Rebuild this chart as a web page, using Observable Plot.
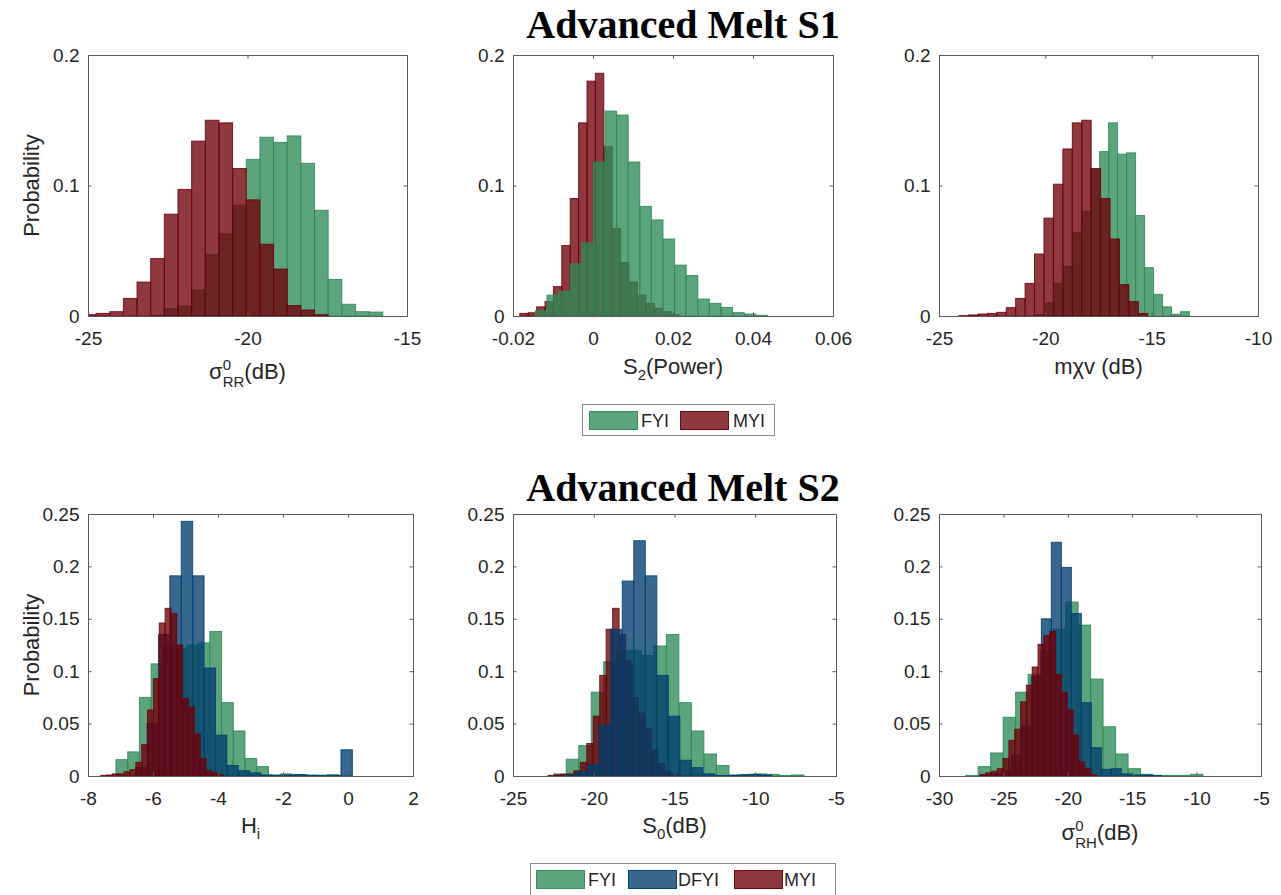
<!DOCTYPE html>
<html><head><meta charset="utf-8">
<script src="https://cdn.jsdelivr.net/npm/d3@7"></script>
<script src="https://cdn.jsdelivr.net/npm/@observablehq/plot@0.6"></script>
<style>
body{margin:0;background:#fff;}
#fig{position:relative;width:1281px;height:895px;overflow:hidden;font-family:"Liberation Sans",Arial,sans-serif;color:#262626;background:#fff}
.title{position:absolute;font-family:"Liberation Serif","Times New Roman",serif;font-weight:bold;font-size:40px;line-height:46px;color:#000;white-space:nowrap;transform:translateX(-50%)}
.panel{position:absolute}
.legend{position:absolute;border:1px solid #8c8c8c;background:#fff;box-sizing:border-box}
.legend .sw{position:absolute;box-sizing:border-box}
.legend .lt{position:absolute;font-size:18px;line-height:18px;color:#262626}
</style></head><body><div id="fig"></div>
<script>
// ---------------- DATA ----------------
const seriesNames = ["FYI", "DFYI", "MYI"];
const seriesColors = {FYI: "#2e8b57", DFYI: "#003e6e", MYI: "#6e000a"};

// Panel 1: sigma0_RR (dB), Advanced Melt S1
const p1XTicks = [-25, -20, -15];
const p1YTicks = [0, 0.1, 0.2];
const p1FYIStart = -23.035, p1FYIWidth = 0.428;
const p1FYI = [0.0005,0.0056,0.0077,0.020,0.047,0.063,0.085,0.120,0.137,0.133,0.138,0.117,0.081,0.028,0.009,0.0033,0.003];
const p1MYIStart = -25.175, p1MYIWidth = 0.428;
const p1MYI = [0.001,0.002,0.0033,0.0135,0.026,0.044,0.078,0.097,0.134,0.150,0.148,0.113,0.089,0.055,0.036,0.008,0.0046,0.001];

// Panel 2: S2 (Power)
const p2XTicks = [-0.02, 0, 0.02, 0.04, 0.06];
const p2YTicks = [0, 0.1, 0.2];
const p2FYIStart = -0.0144, p2FYIWidth = 0.0029;
const p2FYI = [0.004,0.016,0.019,0.040,0.056,0.118,0.157,0.154,0.118,0.084,0.0736,0.059,0.039,0.031,0.013,0.0097,0.0066,0.0026,0.0015,0.0005];
const p2MYIStart = -0.0183, p2MYIWidth = 0.0021;
const p2MYI = [0.002,0.0025,0.007,0.011,0.0225,0.054,0.090,0.148,0.180,0.186,0.130,0.067,0.041,0.026,0.016,0.0097,0.006,0.0033,0.001];

// Panel 3: m-chi-v (dB)
const p3XTicks = [-25, -20, -15, -10];
const p3YTicks = [0, 0.1, 0.2];
const p3FYIStart = -20.41, p3FYIWidth = 0.423;
const p3FYI = [0.001,0.010,0.025,0.038,0.064,0.080,0.112,0.126,0.148,0.124,0.125,0.077,0.037,0.0166,0.007,0.0013,0.0033];
const p3MYIStart = -24.06, p3MYIWidth = 0.444;
const p3MYI = [0.0003,0.0008,0.0015,0.002,0.0028,0.0064,0.0135,0.025,0.0475,0.075,0.101,0.128,0.148,0.150,0.113,0.090,0.059,0.024,0.011,0.002];

// Panel 4: H_i, Advanced Melt S2
const p4XTicks = [-8, -6, -4, -2, 0, 2];
const p4YTicks = [0, 0.05, 0.1, 0.15, 0.2, 0.25];
const p4FYIStart = -7.14, p4FYIWidth = 0.361;
const p4FYI = [0.0156,0.023,0.075,0.107,0.125,0.122,0.125,0.127,0.138,0.070,0.043,0.0166,0.009,0.001,0.002,0.0015,0.001,0.0008,0.0013];
const p4DFYIStart = -6.535, p4DFYIWidth = 0.351;
const p4DFYI = [0.008,0.05,0.135,0.191,0.243,0.191,0.103,0.039,0.010,0.005,0.003,0.001,0.0005,0.001,0.0013,0.0005,0.0005,0.0005,0.025];
const p4MYIStart = -7.607, p4MYIWidth = 0.18;
const p4MYI = [0.0006,0.001,0.002,0.002,0.004,0.006,0.013,0.030,0.063,0.093,0.146,0.160,0.155,0.125,0.074,0.066,0.040,0.0166,0.005,0.003,0.001];

// Panel 5: S0 (dB)
const p5XTicks = [-25, -20, -15, -10, -5];
const p5YTicks = [0, 0.05, 0.1, 0.15, 0.2, 0.25];
const p5FYIStart = -22.48, p5FYIWidth = 0.775;
const p5FYI = [0.002,0.016,0.029,0.080,0.109,0.12,0.12,0.115,0.124,0.135,0.070,0.043,0.021,0.010,0.001,0.0016,0.002,0.0016,0.0006,0.001];
const p5DFYIStart = -21.8, p5DFYIWidth = 0.713;
const p5DFYI = [0.001,0.004,0.011,0.0485,0.140,0.186,0.2245,0.191,0.096,0.057,0.015,0.008,0.002,0.0005,0.0005,0.001,0.0015,0.001];
const p5MYIStart = -22.83, p5MYIWidth = 0.4;
const p5MYI = [0.0006,0.001,0.0016,0.002,0.005,0.013,0.031,0.057,0.096,0.140,0.160,0.135,0.110,0.075,0.060,0.045,0.025,0.012,0.004,0.002];

// Panel 6: sigma0_RH (dB)
const p6XTicks = [-30, -25, -20, -15, -10, -5];
const p6YTicks = [0, 0.05, 0.1, 0.15, 0.2, 0.25];
const p6FYIStart = -27.93, p6FYIWidth = 0.97;
const p6FYI = [0.0006,0.009,0.022,0.056,0.080,0.097,0.12,0.14,0.166,0.144,0.0925,0.047,0.021,0.007,0.0016,0.0006,0.0006,0.0006,0.0016];
const p6DFYIStart = -26.71, p6DFYIWidth = 0.776;
const p6DFYI = [0.001,0.002,0.005,0.02,0.048,0.095,0.150,0.223,0.199,0.155,0.070,0.027,0.0064,0.007,0.002,0.001,0.001,0.0005];
const p6MYIStart = -26.84, p6MYIWidth = 0.453;
const p6MYI = [0.0013,0.003,0.0045,0.007,0.0166,0.034,0.0446,0.0708,0.0867,0.104,0.1256,0.134,0.138,0.097,0.080,0.063,0.039,0.0134,0.007,0.0013];

const titles = ["Advanced Melt S1", "Advanced Melt S2"];
const yLabel = "Probability";

// ---------------- BUILD ----------------
function bins(series, start, width, values) {
  return values.map((v, i) => ({series, x1: start + i * width, x2: start + (i + 1) * width, y: v}));
}

const panels = [
  {frame: [88, 55, 407, 316], xDomain: [-25, -15], yDomain: [0, 0.2], xTicks: p1XTicks, yTicks: p1YTicks, ylab: true,
   layers: [bins("FYI", p1FYIStart, p1FYIWidth, p1FYI), bins("MYI", p1MYIStart, p1MYIWidth, p1MYI)],
   xlab: [["σ"], ["0", "sup"], ["RR", "sub"], ["(dB)"]], xlabY: 379},
  {frame: [513, 55, 833, 316], xDomain: [-0.02, 0.06], yDomain: [0, 0.2], xTicks: p2XTicks, yTicks: p2YTicks,
   layers: [bins("MYI", p2MYIStart, p2MYIWidth, p2MYI), bins("FYI", p2FYIStart, p2FYIWidth, p2FYI)],
   xlab: [["S"], ["2", "sub1"], ["(Power)"]], xlabY: 374},
  {frame: [939, 55, 1258, 316], xDomain: [-25, -10], yDomain: [0, 0.2], xTicks: p3XTicks, yTicks: p3YTicks,
   layers: [bins("FYI", p3FYIStart, p3FYIWidth, p3FYI), bins("MYI", p3MYIStart, p3MYIWidth, p3MYI)],
   xlab: [["mχv (dB)"]], xlabY: 374},
  {frame: [88, 514, 413, 776], xDomain: [-8, 2], yDomain: [0, 0.25], xTicks: p4XTicks, yTicks: p4YTicks, ylab: true,
   layers: [bins("FYI", p4FYIStart, p4FYIWidth, p4FYI), bins("DFYI", p4DFYIStart, p4DFYIWidth, p4DFYI), bins("MYI", p4MYIStart, p4MYIWidth, p4MYI)],
   xlab: [["H"], ["i", "sub1"]], xlabY: 833},
  {frame: [513, 514, 836, 776], xDomain: [-25, -5], yDomain: [0, 0.25], xTicks: p5XTicks, yTicks: p5YTicks,
   layers: [bins("FYI", p5FYIStart, p5FYIWidth, p5FYI), bins("MYI", p5MYIStart, p5MYIWidth, p5MYI), bins("DFYI", p5DFYIStart, p5DFYIWidth, p5DFYI)],
   xlab: [["S"], ["0", "sub1"], ["(dB)"]], xlabY: 833},
  {frame: [939, 514, 1261, 776], xDomain: [-30, -5], yDomain: [0, 0.25], xTicks: p6XTicks, yTicks: p6YTicks,
   layers: [bins("FYI", p6FYIStart, p6FYIWidth, p6FYI), bins("DFYI", p6DFYIStart, p6DFYIWidth, p6DFYI), bins("MYI", p6MYIStart, p6MYIWidth, p6MYI)],
   xlab: [["σ"], ["0", "sup"], ["RH", "sub"], ["(dB)"]], xlabY: 840}
];

const fig = document.getElementById("fig");
const FILL_OP = 0.78, STROKE_OP = 0.85, AX = "#5a5a5a";

function addTitle(text, cx, top) {
  const d = document.createElement("div");
  d.className = "title"; d.textContent = text;
  d.style.left = cx + "px"; d.style.top = top + "px";
  fig.appendChild(d);
}
addTitle(titles[0], 683, 2);
addTitle(titles[1], 683, 465);

for (const p of panels) {
  const mL = 70, mR = 12, mT = 14, mB = 82;
  const fw = p.frame[2] - p.frame[0], fh = p.frame[3] - p.frame[1];
  const [xa, xb] = p.xDomain, [ya, yb] = p.yDomain;
  const marks = [];
  for (const layer of p.layers) {
    const c = seriesColors[layer[0].series];
    marks.push(Plot.rectY(layer, {x1: "x1", x2: "x2", y: "y", fill: c, fillOpacity: FILL_OP, stroke: c, strokeOpacity: STROKE_OP, strokeWidth: 1, clip: true}));
  }
  const tx = (yb - ya) * 0.014, ty = (xb - xa) * 0.011;
  marks.push(Plot.ruleX(p.xTicks, {x: d => d, y1: ya, y2: ya + tx, stroke: AX}));
  marks.push(Plot.ruleX(p.xTicks, {x: d => d, y1: yb, y2: yb - tx, stroke: AX}));
  marks.push(Plot.ruleY(p.yTicks, {y: d => d, x1: xa, x2: xa + ty, stroke: AX}));
  marks.push(Plot.ruleY(p.yTicks, {y: d => d, x1: xb, x2: xb - ty, stroke: AX}));
  marks.push(Plot.frame({stroke: AX, strokeWidth: 1}));
  const svg = Plot.plot({
    width: fw + mL + mR, height: fh + mT + mB,
    marginLeft: mL, marginRight: mR, marginTop: mT, marginBottom: mB,
    style: {fontFamily: '"Liberation Sans", Arial, sans-serif', fontSize: "19px", color: "#262626", background: "transparent", overflow: "visible"},
    x: {domain: p.xDomain, ticks: p.xTicks, tickFormat: d => String(d), tickSize: 0, tickPadding: 15, label: null},
    y: {domain: p.yDomain, ticks: p.yTicks, tickFormat: d => String(d), tickSize: 0, tickPadding: 9, label: null},
    marks
  });
  const wrap = document.createElement("div");
  wrap.className = "panel";
  wrap.style.left = (p.frame[0] - mL) + "px";
  wrap.style.top = (p.frame[1] - mT) + "px";
  wrap.appendChild(svg);
  fig.appendChild(wrap);

  const s = d3.select(svg);
  const t = s.append("text")
    .attr("x", mL + fw / 2).attr("y", p.xlabY - (p.frame[1] - mT))
    .attr("text-anchor", "middle").attr("fill", "#262626")
    .style("font-size", "22px").style("font-family", '"Liberation Sans", Arial, sans-serif');
  let cur = 0, supLen = 0;
  const off = {sup: -9, sub: 8, sub1: 6};
  for (const [txt, kind] of p.xlab) {
    const ts = t.append("tspan").text(txt);
    const o = kind ? off[kind] : 0;
    if (o - cur !== 0) ts.attr("dy", o - cur);
    cur = o;
    if (kind) ts.style("font-size", "15px");
    if (kind === "sub" && supLen) ts.attr("dx", -supLen);
    if (kind === "sup") supLen = ts.node().getComputedTextLength();
  }
  if (p.ylab) {
    const cx = 31 - (p.frame[0] - mL);
    const cy = mT + fh / 2;
    s.append("text").attr("transform", `translate(${cx},${cy}) rotate(-90)`)
      .attr("text-anchor", "middle").attr("dominant-baseline", "central")
      .attr("fill", "#262626").style("font-size", "22px")
      .style("font-family", '"Liberation Sans", Arial, sans-serif').text(yLabel);
  }
}

function rgba(c, a) { const k = d3.color(c); k.opacity = a; return k.formatRgb(); }
function addLegend(left, top, width, height, items) {
  const L = document.createElement("div");
  L.className = "legend";
  Object.assign(L.style, {left: left + "px", top: top + "px", width: width + "px", height: height + "px"});
  for (const it of items) {
    const sw = document.createElement("div");
    sw.className = "sw";
    Object.assign(sw.style, {left: it.sx + "px", top: "6px", width: "49px", height: "19px",
      background: rgba(seriesColors[it.name], FILL_OP), border: "1px solid " + rgba(seriesColors[it.name], STROKE_OP)});
    L.appendChild(sw);
    const tx = document.createElement("div");
    tx.className = "lt"; tx.textContent = it.name;
    Object.assign(tx.style, {left: it.tx + "px", top: "7px"});
    L.appendChild(tx);
  }
  fig.appendChild(L);
}
addLegend(582, 404, 193, 32, [{name: seriesNames[0], sx: 6, tx: 58}, {name: seriesNames[2], sx: 97, tx: 150}]);
addLegend(530, 863, 306, 34, [{name: seriesNames[0], sx: 5, tx: 57}, {name: seriesNames[1], sx: 97, tx: 147}, {name: seriesNames[2], sx: 203, tx: 253}]);
</script></body></html>
